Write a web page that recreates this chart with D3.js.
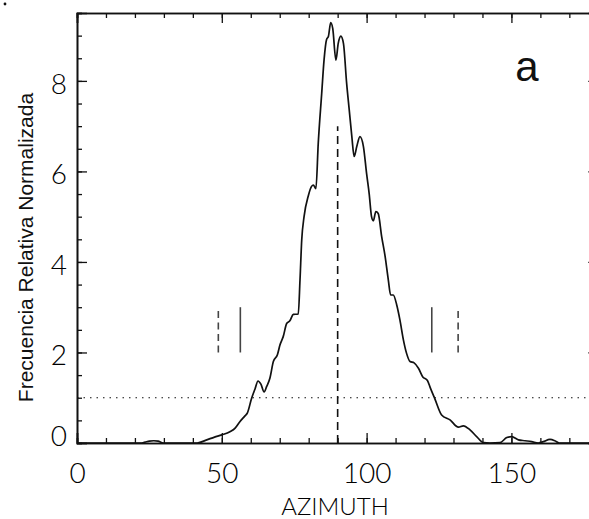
<!DOCTYPE html>
<html>
<head>
<meta charset="utf-8">
<script src="https://cdn.jsdelivr.net/npm/d3@7"></script>
<style>
  body { margin: 0; background: #fff; }
  .tick-label { font-family: Lato, "DejaVu Sans", sans-serif; font-weight: 300; fill: #000; }
</style>
</head>
<body>
<div class="canvas"></div>
<script>
// azimuth (deg) and normalized relative frequency
const azimuth = [0, 22, 23.5, 25, 26.5, 28, 29.8, 41.5, 44.8, 47.5, 50, 52.8, 54.6, 56.1, 58, 58.8,
  60.3, 61.5, 62.5, 63.5, 64.6, 65.5, 66.6, 67.8, 69.2, 70.1, 71.2, 72.4, 73.5, 74.7, 76.4, 77,
  77.6, 78.4, 79.9, 81, 81.6, 82.5, 83.3, 84.5, 85.3, 86.2, 86.8, 87.6, 88.3, 89.4, 90.2, 91.1,
  92, 93.1, 94, 94.9, 95.7, 96.6, 97.7, 98.9, 100, 100.9, 101.7, 102.3, 103.2, 104, 105.2, 106.4,
  107.5, 108.3, 109.2, 110.4, 111.5, 112.7, 113.8, 115, 116.4, 117.9, 119.4, 121, 122.1, 123.6,
  125.9, 128.8, 131.7, 133.4, 135.7, 138, 140.3, 142.6, 146.1, 148.4, 150.1, 152.4, 154.7, 157,
  159.3, 161, 163.3, 165, 166.5, 180];
const frecuencia = [0, 0, 0.02, 0.04, 0.05, 0.04, 0, 0, 0.07, 0.13, 0.18, 0.25, 0.33, 0.46, 0.6, 0.66,
  0.99, 1.2, 1.37, 1.3, 1.13, 1.25, 1.43, 1.8, 1.95, 2.17, 2.35, 2.64, 2.7, 2.84, 2.85, 3.6,
  4.49, 5.0, 5.47, 5.67, 5.7, 5.62, 6.62, 7.73, 8.46, 8.92, 8.98, 9.29, 9.16, 8.46, 8.83, 8.99,
  8.83, 7.95, 7.36, 6.77, 6.33, 6.55, 6.77, 6.55, 5.95, 5.5, 5.0, 4.91, 5.11, 5.07, 4.56, 4.12,
  3.6, 3.27, 3.27, 3.05, 2.72, 2.28, 1.98, 1.8, 1.77, 1.65, 1.46, 1.38, 1.2, 0.97,
  0.62, 0.51, 0.35, 0.38, 0.29, 0.14, 0.01, 0, 0.01, 0.12, 0.14, 0.07, 0.05, 0.03,
  0, 0.03, 0.08, 0.05, 0, 0];

const xMajor = [0, 50, 100, 150];
const yMajor = [0, 2, 4, 6, 8];
const meanAz = 90;          // dashed vertical
const meanTop = 7;
const threshold = 1;        // dotted horizontal
const solidMarks = [56.4, 122.5];
const dashedMarks = [48.8, 131.6];
const markRange = [2, 3];

const W = 589, H = 519;
const svg = d3.select('.canvas').append('svg').attr('width', W).attr('height', H);

const x = d3.scaleLinear().domain([0, 180]).range([77, 598.3]);
const y = d3.scaleLinear().domain([0, 9.5]).range([443, 13]);

const xMinor = d3.range(0, 181, 10);
const yMinor = d3.range(0, 9.51, 0.5);

// minor ticks
svg.append('g').attr('transform', `translate(0,${y(0)})`)
  .call(d3.axisBottom(x).tickValues(xMinor).tickSize(-5).tickFormat(''));
svg.append('g').attr('transform', `translate(0,${y(9.5)})`)
  .call(d3.axisTop(x).tickValues(xMinor).tickSize(-5).tickFormat(''));
svg.append('g').attr('transform', `translate(${x(0)},0)`)
  .call(d3.axisLeft(y).tickValues(yMinor).tickSize(-5).tickFormat(''));
svg.append('g').attr('transform', `translate(${x(180)},0)`)
  .call(d3.axisRight(y).tickValues(yMinor).tickSize(-5).tickFormat(''));

// major ticks
const bottom = svg.append('g').attr('transform', `translate(0,${y(0)})`)
  .call(d3.axisBottom(x).tickValues(xMajor).tickSize(-10).tickPadding(20).tickFormat(d3.format('d')));
svg.append('g').attr('transform', `translate(0,${y(9.5)})`)
  .call(d3.axisTop(x).tickValues(xMajor).tickSize(-10).tickFormat(''));
const left = svg.append('g').attr('transform', `translate(${x(0)},0)`)
  .call(d3.axisLeft(y).tickValues(yMajor).tickSize(-10).tickPadding(10).tickFormat(d3.format('d')));
svg.append('g').attr('transform', `translate(${x(180)},0)`)
  .call(d3.axisRight(y).tickValues(yMajor).tickSize(-10).tickFormat(''));

svg.selectAll('.domain').attr('stroke', '#111').attr('stroke-width', 1.6);
svg.selectAll('.tick line').attr('stroke', '#111').attr('stroke-width', 1.3);

bottom.selectAll('text').attr('class', 'tick-label').style('font-size', '28px');
left.selectAll('text').attr('class', 'tick-label').style('font-size', '28px')
  .attr('dy', d => d === 0 ? '2px' : '12.5px');

// reference lines
svg.append('line')
  .attr('x1', x(0)).attr('x2', x(180))
  .attr('y1', y(threshold)).attr('y2', y(threshold))
  .attr('stroke', '#111').attr('stroke-width', 1.1).attr('stroke-dasharray', '1.5,5');

svg.append('line')
  .attr('x1', x(meanAz)).attr('x2', x(meanAz))
  .attr('y1', y(0)).attr('y2', y(meanTop))
  .attr('stroke', '#111').attr('stroke-width', 1.6).attr('stroke-dasharray', '8,5');

svg.selectAll('.solid-mark').data(solidMarks).enter().append('line')
  .attr('x1', d => x(d)).attr('x2', d => x(d))
  .attr('y1', y(markRange[0])).attr('y2', y(markRange[1]))
  .attr('stroke', '#444').attr('stroke-width', 1.6);

svg.selectAll('.dash-mark').data(dashedMarks).enter().append('line')
  .attr('x1', d => x(d)).attr('x2', d => x(d))
  .attr('y1', y(markRange[0])).attr('y2', y(markRange[1]))
  .attr('stroke', '#444').attr('stroke-width', 1.6).attr('stroke-dasharray', '7,4.5');

// histogram curve
const pts = azimuth.map((a, i) => [a, frecuencia[i]]);
svg.append('path')
  .datum(pts)
  .attr('fill', 'none')
  .attr('stroke', '#111')
  .attr('stroke-width', 1.7)
  .attr('d', d3.line().x(d => x(d[0])).y(d => y(d[1])).curve(d3.curveMonotoneX));

// labels
svg.append('text')
  .attr('x', 335).attr('y', 515)
  .attr('text-anchor', 'middle')
  .attr('class', 'tick-label')
  .style('font-size', '24px')
  .text('AZIMUTH');

svg.append('text')
  .attr('transform', 'translate(33,247.5) rotate(-90)')
  .attr('text-anchor', 'middle')
  .style('font-family', '"Liberation Sans", Arial, sans-serif')
  .style('font-size', '21px')
  .attr('fill', '#111')
  .text('Frecuencia Relativa Normalizada');

svg.append('text')
  .attr('x', 527).attr('y', 81)
  .attr('text-anchor', 'middle')
  .style('font-family', '"Liberation Sans", Arial, sans-serif')
  .style('font-size', '42px')
  .attr('fill', '#111')
  .text('a');

// stray dot in the corner of the scan
svg.append('circle').attr('cx', 5).attr('cy', 4).attr('r', 1.4).attr('fill', '#111');
</script>
</body>
</html>
